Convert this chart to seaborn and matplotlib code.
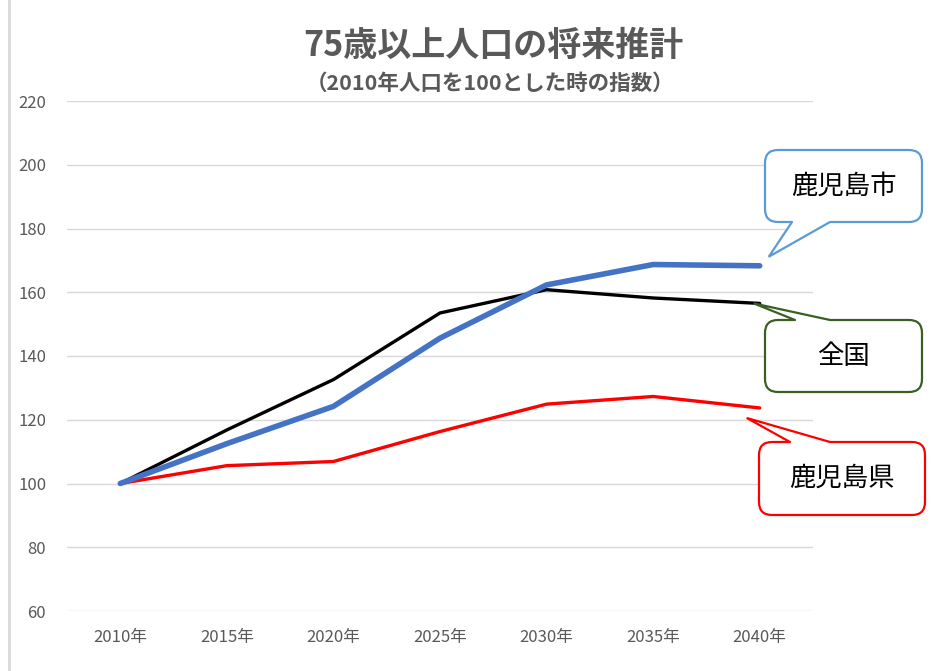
import matplotlib
matplotlib.use("Agg")
import matplotlib.pyplot as plt
from matplotlib.patches import FancyBboxPatch, Polygon
from matplotlib.lines import Line2D
import pandas as pd
import seaborn as sns

# data (index, 2010 = 100)
years = ["2010年", "2015年", "2020年", "2025年", "2030年", "2035年", "2040年"]
kagoshima_pref = [100, 105.6, 106.9, 116.3, 124.9, 127.3, 123.7]
zenkoku = [100, 116.8, 132.6, 153.5, 160.8, 158.2, 156.5]
kagoshima_city = [100, 112.5, 124.2, 145.6, 162.3, 168.7, 168.3]
series_names = ["鹿児島県", "全国", "鹿児島市"]
y_ticks = [60, 80, 100, 120, 140, 160, 180, 200, 220]

title = "75歳以上人口の将来推計"
subtitle = "（2010年人口を100とした時の指数）"

colors = {"鹿児島県": "#FF0000", "全国": "#000000", "鹿児島市": "#4472C4"}
widths = {"鹿児島県": 2.4, "全国": 2.4, "鹿児島市": 4.0}

df = pd.DataFrame({
    "year": years * 3,
    "value": kagoshima_pref + zenkoku + kagoshima_city,
    "series": [n for n in series_names for _ in years],
})

sns.set_style("white")
plt.rcParams["font.family"] = ["Noto Sans CJK JP", "DejaVu Sans"]

W, H = 940, 671
fig = plt.figure(figsize=(W / 100, H / 100), dpi=100)
ax = fig.add_axes([67 / W, 1 - 611 / H, 746 / W, 510 / H])

sns.lineplot(data=df, x="year", y="value", hue="series", hue_order=series_names,
             palette=colors, sort=False, legend=False, ax=ax)
for line, name in zip(ax.lines, series_names):
    line.set_linewidth(widths[name])
    line.set_solid_capstyle("round")
    line.set_solid_joinstyle("round")

ax.set_xlim(-0.5, len(years) - 0.5)
ax.set_ylim(y_ticks[0], y_ticks[-1])
ax.set_yticks(y_ticks)
ax.yaxis.grid(True, color="#D9D9D9", lw=1)
ax.set_axisbelow(True)
for s in ax.spines.values():
    s.set_visible(False)
ax.set_xlabel("")
ax.set_ylabel("")
ax.tick_params(axis="both", length=0, labelsize=12, labelcolor="#595959")
ax.tick_params(axis="y", pad=15)
ax.tick_params(axis="x", pad=13)

fig.text(493 / W, 1 - 45 / H, title, ha="center", va="center", fontsize=24.5,
         fontweight="bold", color="#595959")
fig.text(490 / W, 1 - 83 / H, subtitle, ha="center", va="center", fontsize=15.5,
         fontweight="bold", color="#595959")

# left border of the chart area
fig.add_artist(Line2D([9 / W, 9 / W], [0, 1], color="#D9D9D9", lw=2))


def px(x, y):
    # reference pixel (top-left origin) -> inches for dpi_scale_trans
    return (x / 100, (H - y) / 100)


def callout(label, box, base, tip_value, tip_off, color):
    x0, y0, x1, y1 = box
    bx, by = px(x0, y1)
    patch = FancyBboxPatch((bx, by), (x1 - x0) / 100, (y1 - y0) / 100,
                           boxstyle="round,pad=0,rounding_size=0.13",
                           transform=fig.dpi_scale_trans, fc="white", ec=color,
                           lw=1.6, zorder=5)
    fig.add_artist(patch)
    tx, ty = ax.transData.transform((len(years) - 1, tip_value))
    tip = ((tx + tip_off[0]) / fig.dpi, (ty - tip_off[1]) / fig.dpi)
    bl, edge_y, br = base
    p0 = px(bl, edge_y)
    p1 = px(br, edge_y)
    inner = 3 if edge_y == y1 else -3
    q0 = px(bl, edge_y - inner)
    q1 = px(br, edge_y - inner)
    fig.add_artist(Polygon([q0, p0, tip, p1, q1], closed=True, fc="white",
                           ec="none", transform=fig.dpi_scale_trans, zorder=6))
    fig.add_artist(Line2D([p0[0], tip[0], p1[0]], [p0[1], tip[1], p1[1]],
                          color=color, lw=1.6, transform=fig.dpi_scale_trans,
                          zorder=7, solid_joinstyle="miter"))
    fig.text((x0 + x1) / 2 / W, 1 - (y0 + y1) / 2 / H, label, ha="center",
             va="center", fontsize=19, color="#000000", zorder=8)


callout("鹿児島市", (765, 150, 922, 222), (792, 222, 830),
        kagoshima_city[-1], (9, -9), "#5B9BD5")
callout("全国", (765, 320, 922, 392), (795, 320, 830),
        zenkoku[-1], (-6, 0), "#3B5E23")
callout("鹿児島県", (759, 442, 925, 515), (790, 442, 830),
        kagoshima_pref[-1], (-13, 10), "#FF0000")

fig.savefig("out.png", dpi=100)
